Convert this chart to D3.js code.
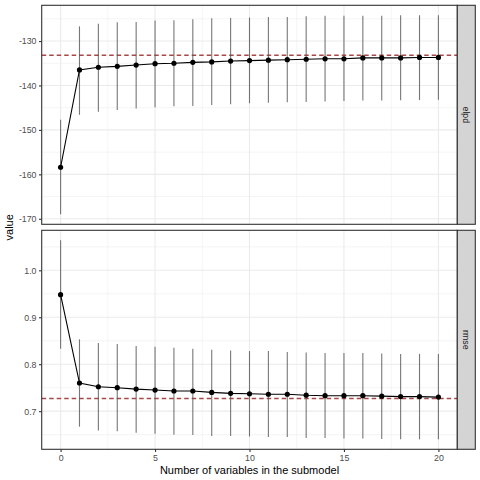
<!DOCTYPE html>
<html>
<head>
<meta charset="utf-8">
<script src="https://cdn.jsdelivr.net/npm/d3@7.9.0/dist/d3.min.js"></script>
<style>
  body { margin: 0; background: #fff; }
  svg { display: block; font-family: "Liberation Sans", Arial, sans-serif; }
</style>
</head>
<body>
<svg id="chart" width="480" height="480"></svg>
<script>
// number of variables in the submodel
const nvars = d3.range(0, 21);

// elpd panel
const elpdMean  = [-158.4, -136.5, -135.9, -135.7, -135.4, -135.1, -135.0, -134.8, -134.7, -134.5, -134.4,
                   -134.3, -134.2, -134.1, -134.0, -134.0, -133.8, -133.8, -133.8, -133.7, -133.7];
const elpdUpper = [-147.7, -126.7, -126.1, -125.8, -125.7, -125.4, -125.3, -125.1, -124.9, -124.8, -124.7,
                   -124.6, -124.6, -124.4, -124.3, -124.3, -124.3, -124.3, -124.2, -124.2, -124.2];
const elpdLower = [-169.0, -146.6, -145.9, -145.5, -145.2, -144.9, -144.7, -144.6, -144.4, -144.2, -144.0,
                   -143.9, -143.8, -143.7, -143.6, -143.5, -143.4, -143.4, -143.3, -143.3, -143.2];
const elpdRef = -133.2;
const elpdTicks = [-130, -140, -150, -160, -170];

// rmse panel
const rmseMean  = [0.948, 0.760, 0.752, 0.750, 0.747, 0.745, 0.743, 0.743, 0.740, 0.738, 0.737,
                   0.736, 0.736, 0.734, 0.733, 0.733, 0.733, 0.732, 0.731, 0.731, 0.730];
const rmseUpper = [1.064, 0.853, 0.845, 0.843, 0.839, 0.837, 0.835, 0.833, 0.831, 0.829, 0.828,
                   0.828, 0.826, 0.825, 0.824, 0.824, 0.824, 0.823, 0.822, 0.822, 0.822];
const rmseLower = [0.833, 0.667, 0.659, 0.657, 0.654, 0.652, 0.650, 0.649, 0.647, 0.647, 0.646,
                   0.645, 0.645, 0.643, 0.643, 0.642, 0.642, 0.641, 0.640, 0.640, 0.640];
const rmseRef = 0.727;
const rmseTicks = [0.7, 0.8, 0.9, 1.0];

const xTicks = [0, 5, 10, 15, 20];

// plain hyphen minus like R prints
const hyphen = f => v => f(v).replace("\u2212", "-");

const panels = [
  { label: "elpd", mean: elpdMean, upper: elpdUpper, lower: elpdLower, ref: elpdRef, ticks: elpdTicks, fmt: hyphen(d3.format("d")), top: 5.3, bottom: 224.3 },
  { label: "rmse", mean: rmseMean, upper: rmseUpper, lower: rmseLower, ref: rmseRef, ticks: rmseTicks, fmt: d3.format(".1f"), top: 230.3, bottom: 449.3 }
];

const left = 41.7, right = 457.3, stripW = 18;
const svg = d3.select("#chart");

const x = d3.scaleLinear().domain([-1, 21]).range([left, right]);

panels.forEach(p => {
  const lo = d3.min(p.lower.concat([p.ref])), hi = d3.max(p.upper.concat([p.ref]));
  const pad = (hi - lo) * 0.05;
  const y = d3.scaleLinear().domain([lo - pad, hi + pad]).range([p.bottom, p.top]);
  const g = svg.append("g");

  g.append("rect").attr("x", left).attr("y", p.top)
    .attr("width", right - left).attr("height", p.bottom - p.top).attr("fill", "#fff");

  // minor grid
  const step = p.ticks[1] - p.ticks[0];
  const minorY = p.ticks.map(t => t + step / 2).concat([p.ticks[0] - step / 2])
    .filter(v => v > y.domain()[0] && v < y.domain()[1]);
  g.selectAll(".minY").data(minorY).join("line")
    .attr("x1", left).attr("x2", right)
    .attr("y1", d => y(d)).attr("y2", d => y(d))
    .attr("stroke", "#ebebeb").attr("stroke-width", 0.55);
  g.selectAll(".minX").data([2.5, 7.5, 12.5, 17.5]).join("line")
    .attr("y1", p.top).attr("y2", p.bottom)
    .attr("x1", d => x(d)).attr("x2", d => x(d))
    .attr("stroke", "#ebebeb").attr("stroke-width", 0.55);

  // major grid
  g.selectAll(".majY").data(p.ticks).join("line")
    .attr("x1", left).attr("x2", right)
    .attr("y1", d => y(d)).attr("y2", d => y(d))
    .attr("stroke", "#ebebeb").attr("stroke-width", 1.1);
  g.selectAll(".majX").data(xTicks).join("line")
    .attr("y1", p.top).attr("y2", p.bottom)
    .attr("x1", d => x(d)).attr("x2", d => x(d))
    .attr("stroke", "#ebebeb").attr("stroke-width", 1.1);

  // reference line
  g.append("line")
    .attr("x1", left).attr("x2", right)
    .attr("y1", y(p.ref)).attr("y2", y(p.ref))
    .attr("stroke", "#a84848").attr("stroke-width", 1.4)
    .attr("stroke-dasharray", "4.5,3");

  // error bars
  g.selectAll(".bar").data(nvars).join("line")
    .attr("x1", d => x(d)).attr("x2", d => x(d))
    .attr("y1", (d, i) => y(p.lower[i])).attr("y2", (d, i) => y(p.upper[i]))
    .attr("stroke", "#555").attr("stroke-opacity", 0.8).attr("stroke-width", 1.1);

  // line + points
  g.append("path")
    .datum(nvars)
    .attr("d", d3.line().x(d => x(d)).y((d, i) => y(p.mean[i])))
    .attr("fill", "none").attr("stroke", "#000").attr("stroke-width", 1.1);
  g.selectAll(".pt").data(nvars).join("circle")
    .attr("cx", d => x(d)).attr("cy", (d, i) => y(p.mean[i]))
    .attr("r", 2.6).attr("fill", "#000");

  // border
  g.append("rect").attr("x", left).attr("y", p.top)
    .attr("width", right - left).attr("height", p.bottom - p.top)
    .attr("fill", "none").attr("stroke", "#333").attr("stroke-width", 1.1);

  // y axis
  const yAxis = g.append("g").attr("transform", `translate(${left},0)`)
    .call(d3.axisLeft(y).tickValues(p.ticks).tickFormat(p.fmt).tickSize(2.7).tickPadding(2.5));
  yAxis.select(".domain").remove();
  yAxis.selectAll(".tick line").attr("stroke", "#333").attr("stroke-width", 1.1);
  yAxis.selectAll("text").attr("fill", "#4d4d4d").attr("font-size", 8.8).attr("font-family", null);

  // strip
  g.append("rect").attr("x", right).attr("y", p.top)
    .attr("width", stripW).attr("height", p.bottom - p.top)
    .attr("fill", "#d4d4d4").attr("stroke", "#333").attr("stroke-width", 1.1);
  g.append("text")
    .attr("transform", `translate(${right + stripW / 2},${(p.top + p.bottom) / 2}) rotate(90)`)
    .attr("text-anchor", "middle").attr("dominant-baseline", "central")
    .attr("font-size", 8.8).attr("fill", "#1a1a1a")
    .text(p.label);
});

// x axis under bottom panel
const xAxis = svg.append("g").attr("transform", `translate(0,${panels[1].bottom})`)
  .call(d3.axisBottom(x).tickValues(xTicks).tickSize(2.7).tickPadding(2.5));
xAxis.select(".domain").remove();
xAxis.selectAll(".tick line").attr("stroke", "#333").attr("stroke-width", 1.1);
xAxis.selectAll("text").attr("fill", "#4d4d4d").attr("font-size", 8.8).attr("font-family", null);

svg.append("text")
  .attr("x", (left + right) / 2).attr("y", 474)
  .attr("text-anchor", "middle").attr("font-size", 11).attr("fill", "#000")
  .text("Number of variables in the submodel");

svg.append("text")
  .attr("transform", `translate(13,${(panels[0].top + panels[1].bottom) / 2}) rotate(-90)`)
  .attr("text-anchor", "middle").attr("font-size", 11).attr("fill", "#000")
  .text("value");
</script>
</body>
</html>
